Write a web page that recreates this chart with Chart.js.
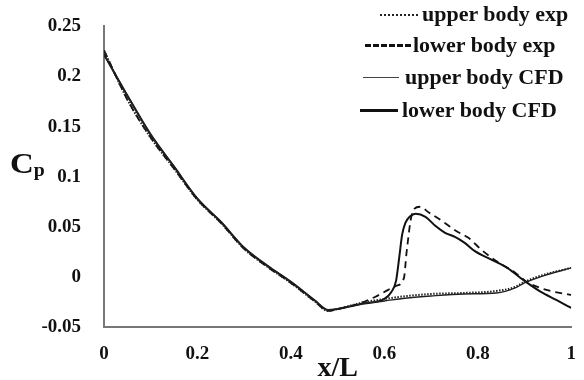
<!DOCTYPE html>
<html>
<head>
<meta charset="utf-8">
<script src="https://cdn.jsdelivr.net/npm/chart.js@4.4.1/dist/chart.umd.min.js"></script>
<style>
  body { margin: 0; background: #fff; }
  #wrap { position: relative; width: 584px; height: 380px; font-family: 'Liberation Serif', 'DejaVu Serif', serif; font-weight: bold; color: #111; }
  #cpChart { position: absolute; left: 0; top: 0; }
  .leg { position: absolute; font-size: 20px; line-height: 24px; white-space: nowrap; transform: scaleX(1.1); transform-origin: left center; }
  .sample { position: absolute; height: 0; }
  #ytitle { position: absolute; left: 10px; top: 146px; font-size: 30px; transform: scaleX(1.1); transform-origin: left center; }
  #ytitle sub { font-size: 18px; vertical-align: -3px; }
</style>
</head>
<body>
<div id="wrap">
  <canvas id="cpChart" width="584" height="380"></canvas>
  <div id="ytitle">C<sub>p</sub></div>
  <div class="sample" style="left:380px; top:14px; width:38px; border-top:2px dotted #222;"></div>
  <div class="leg" style="left:422px; top:2px;">upper body exp</div>
  <div class="sample" style="left:365px; top:44px; width:46px; border-top:3px dashed #111;"></div>
  <div class="leg" style="left:413px; top:33px;">lower body exp</div>
  <div class="sample" style="left:363px; top:77px; width:36px; border-top:1.5px solid #444;"></div>
  <div class="leg" style="left:405px; top:65px;">upper body CFD</div>
  <div class="sample" style="left:360px; top:109px; width:38px; border-top:3px solid #111;"></div>
  <div class="leg" style="left:402px; top:98px;">lower body CFD</div>
</div>
<script>
// shared part of the distribution (front of the body)
const xFront = [0, 0.05, 0.1, 0.15, 0.2, 0.25, 0.3, 0.35, 0.4, 0.45, 0.48, 0.5, 0.55];
const cfdFront = [0.222, 0.181, 0.142, 0.110, 0.078, 0.055, 0.029, 0.011, -0.005, -0.023, -0.033, -0.032, -0.027];
const expFront = [0.226, 0.177, 0.139, 0.108, 0.077, 0.054, 0.028, 0.010, -0.006, -0.024, -0.034, -0.032, -0.026];

// rear part
const xUpperRear = [0.6, 0.65, 0.7, 0.77, 0.84, 0.88, 0.9, 0.94, 1.0];
const upperExpRear = [-0.022, -0.019, -0.017, -0.016, -0.014, -0.010, -0.005, 0.002, 0.009];
const upperCfdRear = [-0.024, -0.021, -0.019, -0.017, -0.016, -0.011, -0.006, 0.001, 0.009];

const xLowerExpRear = [0.58, 0.6, 0.625, 0.642, 0.647, 0.652, 0.656, 0.664, 0.676, 0.696, 0.726, 0.753, 0.78, 0.808, 0.842, 0.878, 0.905, 0.947, 1.0];
const lowerExpRear = [-0.020, -0.015, -0.009, -0.001, 0.022, 0.042, 0.056, 0.068, 0.070, 0.064, 0.055, 0.046, 0.039, 0.027, 0.015, 0.005, -0.005, -0.013, -0.018];

const xLowerCfdRear = [0.6, 0.615, 0.625, 0.632, 0.638, 0.645, 0.654, 0.667, 0.688, 0.709, 0.73, 0.751, 0.772, 0.793, 0.83, 0.863, 0.903, 0.935, 0.968, 1.0];
const lowerCfdRear = [-0.022, -0.015, -0.004, 0.020, 0.042, 0.054, 0.060, 0.063, 0.060, 0.051, 0.044, 0.040, 0.034, 0.026, 0.017, 0.009, -0.005, -0.015, -0.023, -0.031];

const xTicks = [0, 0.2, 0.4, 0.6, 0.8, 1];
const yTicks = [-0.05, 0, 0.05, 0.1, 0.15, 0.2, 0.25];

function toPoints(xs, ys) {
  return xs.map((x, i) => ({ x: x, y: ys[i] }));
}

function series(label, xs, ys, width, dash, color) {
  return {
    label: label,
    data: toPoints(xs, ys),
    borderColor: color,
    borderWidth: width,
    borderDash: dash,
    pointRadius: 0,
    fill: false,
    cubicInterpolationMode: 'monotone'
  };
}

const tickFont = { family: "'Liberation Serif', serif", size: 19, weight: 'bold' };

new Chart(document.getElementById('cpChart').getContext('2d'), {
  type: 'line',
  data: {
    datasets: [
      series('upper body exp', xFront.concat(xUpperRear), expFront.concat(upperExpRear), 2, [1.5, 1.5], '#222'),
      series('lower body exp', xFront.concat(xLowerExpRear), expFront.concat(lowerExpRear), 1.8, [7, 5], '#111'),
      series('upper body CFD', xFront.concat(xUpperRear), cfdFront.concat(upperCfdRear), 1.4, [], '#222'),
      series('lower body CFD', xFront.concat(xLowerCfdRear), cfdFront.concat(lowerCfdRear), 2, [], '#111')
    ]
  },
  options: {
    responsive: false,
    animation: false,
    layout: { padding: { top: 25, right: 7, left: 0, bottom: 0 } },
    plugins: { legend: { display: false }, tooltip: { enabled: false } },
    scales: {
      x: {
        type: 'linear',
        min: 0,
        max: 1,
        afterFit: scale => { scale.height = 53; },
        afterBuildTicks: scale => { scale.ticks = xTicks.map(v => ({ value: v })); },
        grid: { display: false },
        border: { display: true, color: '#777', width: 2 },
        ticks: { font: tickFont, color: '#111', padding: 8, maxRotation: 0,
          callback: v => String(v) },
        title: { display: true, text: 'x/L', color: '#111', padding: { top: 0, bottom: -6 },
          font: { family: "'Liberation Serif', serif", size: 28, weight: 'bold' } }
      },
      y: {
        min: -0.05,
        max: 0.25,
        afterFit: scale => { scale.width = 104; },
        afterBuildTicks: scale => { scale.ticks = yTicks.map(v => ({ value: v })); },
        grid: { display: false },
        border: { display: true, color: '#777', width: 2 },
        ticks: { font: tickFont, color: '#111', padding: 15,
          callback: v => String(Math.round(v * 100) / 100) }
      }
    }
  }
});
</script>
</body>
</html>
